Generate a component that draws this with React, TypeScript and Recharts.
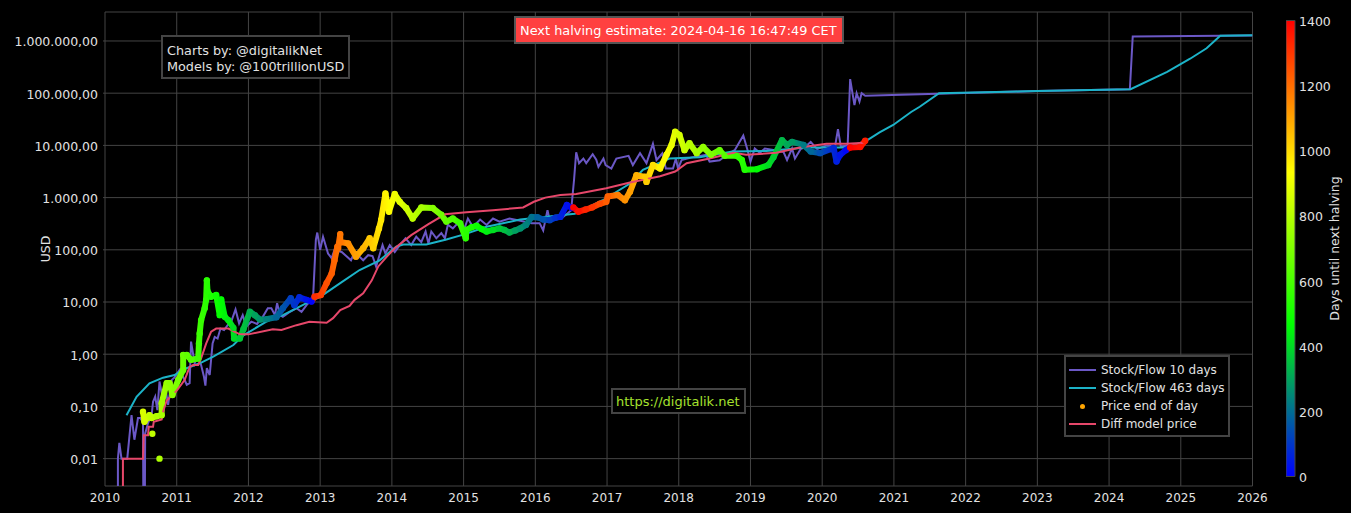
import { Bar, BarChart, CartesianGrid, Cell, ComposedChart, Line, Scatter, XAxis, YAxis } from 'recharts'

// ---------------------------------------------------------------------------
// Data (years as decimals, values in USD)
// ---------------------------------------------------------------------------

const yearTicks = [2010, 2011, 2012, 2013, 2014, 2015, 2016, 2017, 2018, 2019, 2020, 2021, 2022, 2023, 2024, 2025, 2026]
const usdTicks = [0.01, 0.1, 1, 10, 100, 1000, 10000, 100000, 1000000]
const colorbarTicks = [0, 200, 400, 600, 800, 1000, 1200, 1400]
const halvings = [2012.9, 2016.52, 2020.355, 2024.29]

const sf10Years = [
  2010.18, 2010.18, 2010.2, 2010.23, 2010.31, 2010.37, 2010.41, 2010.46, 2010.49, 2010.53, 2010.535, 2010.555, 2010.56, 2010.6, 2010.65, 2010.67, 2010.7, 2010.73, 2010.76, 2010.81, 2010.84, 2010.88, 2010.93, 2010.97,
  2011.04, 2011.11, 2011.14, 2011.18, 2011.2, 2011.25, 2011.29, 2011.34, 2011.38, 2011.4, 2011.42, 2011.46, 2011.5, 2011.53, 2011.57, 2011.61, 2011.66, 2011.71, 2011.76, 2011.82, 2011.87, 2011.92, 2011.97,
  2012.04, 2012.12, 2012.2, 2012.27, 2012.32, 2012.37, 2012.4, 2012.44, 2012.48, 2012.58, 2012.67, 2012.74, 2012.81, 2012.85, 2012.9, 2012.94, 2012.96,
  2013.0, 2013.04, 2013.11, 2013.16, 2013.2, 2013.3, 2013.43, 2013.48, 2013.6, 2013.67, 2013.73, 2013.78, 2013.87, 2013.91, 2013.97,
  2014.04, 2014.11, 2014.19, 2014.27, 2014.34, 2014.41, 2014.47, 2014.51, 2014.55, 2014.62, 2014.69, 2014.74, 2014.78, 2014.85, 2014.92, 2014.99,
  2015.06, 2015.13, 2015.23, 2015.32, 2015.41, 2015.5, 2015.64, 2015.79, 2015.95,
  2016.06, 2016.11, 2016.17, 2016.2, 2016.39, 2016.5, 2016.54, 2016.57, 2016.61, 2016.67, 2016.71, 2016.8, 2016.85, 2016.88, 2016.95, 2016.98,
  2017.06, 2017.13, 2017.3, 2017.36, 2017.46, 2017.55, 2017.64, 2017.69, 2017.77, 2017.82, 2017.92, 2017.96, 2017.99,
  2018.04, 2018.18, 2018.38, 2018.43, 2018.57, 2018.67, 2018.78, 2018.9, 2018.96, 2019.0, 2019.06, 2019.13, 2019.2, 2019.32, 2019.46, 2019.51, 2019.58, 2019.62, 2019.7, 2019.77, 2019.84, 2019.93,
  2020.06, 2020.18, 2020.22, 2020.26, 2020.355, 2020.39, 2020.45, 2020.48, 2020.52, 2020.55, 2020.6, 2021.36, 2023.0, 2024.29, 2024.33, 2025.55, 2026.0,
]
const sf10Values = [
  0.001, 0.01, 0.02, 0.01, 0.01, 0.068, 0.023, 0.06, 0.06, 0.05, 0.001, 0.001, 0.03, 0.048, 0.068, 0.123, 0.154, 0.085, 0.3, 0.13, 0.24, 0.107, 0.32, 0.36,
  0.5, 0.32, 0.26, 0.28, 1.74, 0.67, 0.95, 0.62, 0.37, 0.25, 0.54, 0.4, 1.6, 2.15, 2.0, 3.1, 2.9, 3.6, 4.2, 7.2, 3.9, 5.6, 3.4,
  4.2, 3.8, 5.2, 7.6, 7.6, 5.6, 9.5, 5.6, 5.2, 6.5, 7.6, 6.5, 8.7, 10, 11, 155, 214,
  100, 178, 85, 69, 100, 91, 63, 91, 63, 79, 76, 48, 123, 85, 123,
  91, 123, 166, 123, 178, 140, 224, 132, 224, 166, 209, 166, 302, 257, 324, 210,
  398, 275, 380, 300, 398, 347, 398, 360, 324,
  324, 234, 575, 372, 427, 575, 2190, 7400, 4570, 5600, 4570, 6760, 5300, 3900, 5600, 4200,
  3600, 5600, 6300, 4200, 7100, 4570, 10700, 5250, 7000, 3600, 3600, 5600, 3600,
  5250, 5900, 6600, 4900, 5200, 6600, 8100, 15500, 8100, 4900, 8700, 7200, 8700, 8200, 7500, 5250, 8700, 5600, 8500, 9500, 11700, 8500,
  10000, 9700, 20400, 9500, 10000, 186000, 59000, 100000, 69000, 100000, 89000, 95000, 110000, 119000, 1220000, 1260000, 1280000,
]

const sf463Years = [
  2010.3, 2010.44, 2010.62, 2010.81, 2010.97, 2011.09, 2011.32, 2011.51, 2011.79, 2011.93, 2012.25, 2012.48, 2012.81, 2013.0, 2013.28, 2013.55, 2013.83, 2014.06, 2014.16, 2014.48, 2014.76,
  2015.02, 2015.32, 2015.79, 2016.55, 2016.94, 2017.32, 2017.5, 2017.87, 2018.29, 2018.75, 2019.22, 2019.78, 2020.34, 2020.62, 2020.8, 2020.99, 2021.24, 2021.36, 2021.63, 2023.0, 2024.3, 2024.81, 2025.13, 2025.36, 2025.55, 2026.0,
]
const sf463Values = [
  0.068, 0.153, 0.277, 0.355, 0.4, 0.51, 0.67, 0.9, 1.5, 2.3, 4.2, 5.6, 9.5, 12.6, 23, 41, 63, 115, 126, 126, 158,
  200, 276, 380, 490, 890, 1860, 3400, 5600, 5900, 7600, 7800, 9100, 9100, 12300, 17800, 24600, 43600, 55000, 100000, 110000, 119000, 257000, 457000, 724000, 1260000, 1290000,
]

const diffYears = [
  2010.25, 2010.25, 2010.53, 2010.54, 2010.6, 2010.61, 2010.67, 2010.68, 2010.79, 2010.81, 2010.86, 2011.0, 2011.11, 2011.18, 2011.23, 2011.3, 2011.34, 2011.41, 2011.48, 2011.55, 2011.72, 2011.88,
  2012.0, 2012.34, 2012.46, 2012.67, 2012.85, 2013.09, 2013.18, 2013.28, 2013.41, 2013.48, 2013.6, 2013.72, 2013.81, 2013.93,
  2014.04, 2014.27, 2014.51, 2014.74, 2015.04, 2015.41, 2015.83, 2015.98, 2016.14, 2016.35, 2016.57, 2016.99, 2017.32, 2017.74, 2017.95, 2018.11, 2018.43, 2018.76, 2018.94, 2019.36, 2019.69, 2020.06, 2020.34, 2020.6,
]
const diffValues = [
  0.001, 0.01, 0.01, 0.028, 0.028, 0.041, 0.041, 0.051, 0.056, 0.079, 0.13, 0.2, 0.32, 0.57, 0.62, 0.62, 0.83, 1.6, 2.7, 3.1, 3.1, 2.4,
  2.4, 3.0, 2.9, 3.6, 4.2, 4.0, 4.9, 7, 8.4, 11, 14.7, 26, 48, 74,
  107, 191, 309, 479, 525, 575, 646, 832, 1000, 1120, 1170, 1510, 1950, 2570, 3160, 4570, 5600, 7200, 6600, 7200, 9100, 10700, 10700, 11200,
]

const priceYears = [
  2010.53, 2010.55, 2010.62, 2010.65, 2010.72, 2010.79, 2010.79, 2010.86, 2010.9, 2010.94, 2011.02, 2011.09, 2011.09, 2011.14, 2011.2, 2011.3, 2011.31, 2011.32, 2011.34, 2011.39, 2011.41, 2011.42, 2011.43, 2011.48, 2011.55, 2011.6, 2011.62, 2011.67, 2011.72, 2011.79, 2011.8, 2011.88, 2011.93,
  2012.02, 2012.09, 2012.16, 2012.25, 2012.39, 2012.48, 2012.59, 2012.64, 2012.71, 2012.81, 2012.88, 2012.92,
  2013.01, 2013.09, 2013.16, 2013.2, 2013.24, 2013.25, 2013.28, 2013.28, 2013.39, 2013.5, 2013.6, 2013.69, 2013.74, 2013.82, 2013.85, 2013.91, 2013.96,
  2014.04, 2014.11, 2014.2, 2014.29, 2014.41, 2014.57, 2014.69, 2014.76, 2014.85, 2014.95,
  2015.03, 2015.04, 2015.11, 2015.18, 2015.25, 2015.32, 2015.41, 2015.5, 2015.57, 2015.64, 2015.72, 2015.79, 2015.87, 2015.95,
  2016.03, 2016.11, 2016.2, 2016.28, 2016.35, 2016.44, 2016.51, 2016.53, 2016.6, 2016.7, 2016.79, 2016.9, 2016.99,
  2017.01, 2017.15, 2017.25, 2017.32, 2017.41, 2017.53, 2017.55, 2017.64, 2017.74, 2017.83, 2017.9, 2017.95,
  2018.01, 2018.08, 2018.15, 2018.25, 2018.34, 2018.45, 2018.57, 2018.64, 2018.81, 2018.88, 2018.92,
  2019.09, 2019.25, 2019.32, 2019.44, 2019.51, 2019.58, 2019.74, 2019.84, 2019.97,
  2020.16, 2020.2, 2020.25, 2020.33, 2020.39, 2020.53, 2020.6,
]
const priceValues = [
  0.079, 0.051, 0.068, 0.06, 0.065, 0.068, 0.115, 0.28, 0.28, 0.166, 0.32, 0.5, 0.97, 0.97, 0.78, 0.83, 1.6, 2.5, 4.5, 7.6, 11, 26, 16, 12.6, 13.6, 5.6, 11.2, 5.2, 4.5, 3.2, 2, 2, 3,
  6.5, 5.6, 4.6, 4.7, 5.1, 7.6, 11.8, 8.7, 12.3, 11, 10.2, 12.6,
  13.6, 23, 35, 63, 115, 107, 200, 142, 132, 74, 107, 166, 107, 257, 372, 1200, 537,
  1170, 830, 630, 398, 646, 630, 468, 347, 398, 324,
  166, 240, 270, 288, 250, 224, 240, 257, 240, 214, 235, 257, 300, 427,
  420, 380, 370, 410, 427, 724, 630, 646, 537, 590, 646, 760, 830,
  1050, 1120, 890, 1290, 2690, 2500, 2000, 4200, 3600, 6600, 10200, 18200,
  15800, 8100, 11000, 7100, 9300, 6600, 8100, 6300, 6300, 5250, 3400,
  3500, 4200, 5900, 12600, 10200, 11700, 10200, 7600, 7100,
  8900, 4900, 6600, 8100, 9100, 9300, 12300,
]
// days with no neighbour in the thick band
const priceOutlierYears = [2010.66, 2010.76]
const priceOutlierValues = [0.03, 0.01]

const legendItems = [
  { label: 'Stock/Flow 10 days', color: '#6b58c6', kind: 'line' },
  { label: 'Stock/Flow 463 days', color: '#1cb3c8', kind: 'line' },
  { label: 'Price end of day', color: '#ffa500', kind: 'dot' },
  { label: 'Diff model price', color: '#e6476a', kind: 'line' },
]

// ---------------------------------------------------------------------------
// Helpers
// ---------------------------------------------------------------------------

const FONT = '"DejaVu Sans", sans-serif'
const TEXT = '#e2e2e2'
const GRID = '#444'

const toRows = (years: number[], values: number[]) => years.map((t, i) => ({ t, v: values[i] }))

const sf10Rows = toRows(sf10Years, sf10Values)
const sf463Rows = toRows(sf463Years, sf463Values)
const diffRows = toRows(diffYears, diffValues)
const priceRows = toRows(priceYears, priceValues)

// blue -> green -> yellow -> red over the 0..1400 day range
function daysColor(days: number) {
  const f = Math.min(Math.max(days / 1400, 0), 1) * 3
  let r = 0
  let g = 0
  let b = 0
  if (f < 1) {
    g = f
    b = 1 - f
  } else if (f < 2) {
    r = f - 1
    g = 1
  } else {
    r = 1
    g = 3 - f
  }
  return `rgb(${Math.round(r * 255)},${Math.round(g * 255)},${Math.round(b * 255)})`
}

function daysUntilHalving(t: number) {
  const next = halvings.find((h) => h > t) ?? halvings[halvings.length - 1]
  return (next - t) * 365.25
}

const priceDots = [...priceRows, ...toRows(priceOutlierYears, priceOutlierValues)].map((d) => ({
  ...d,
  color: daysColor(daysUntilHalving(d.t)),
}))

const firstYear = priceYears[0]
const lastYear = priceYears[priceYears.length - 1]
const stopYears = [
  ...priceYears,
  ...halvings.filter((h) => h > firstYear && h < lastYear).flatMap((h) => [h - 0.001, h + 0.001]),
].sort((a, b) => a - b)

const formatUsd = (v: number) =>
  v.toLocaleString('de-DE', { minimumFractionDigits: 2, maximumFractionDigits: 2 })

const noteBox = {
  position: 'absolute' as const,
  boxSizing: 'border-box' as const,
  background: '#000',
  border: `2px solid ${GRID}`,
  fontSize: 12.8,
  whiteSpace: 'pre' as const,
}

// ---------------------------------------------------------------------------
// Component
// ---------------------------------------------------------------------------

export default function App() {
  return (
    <div style={{ position: 'absolute', left: 0, top: 0, width: 1351, height: 513, background: '#000', overflow: 'hidden', fontFamily: FONT, color: TEXT }}>
      <div style={{ position: 'absolute', left: 0, top: 0 }}>
        <ComposedChart width={1351} height={513} margin={{ top: 12, right: 98.5, bottom: 0, left: 0 }}>
          <defs>
            <linearGradient id="priceGradient" x1="0" y1="0" x2="1" y2="0">
              {stopYears.map((t, i) => (
                <stop key={i} offset={(t - firstYear) / (lastYear - firstYear)} stopColor={daysColor(daysUntilHalving(t))} />
              ))}
            </linearGradient>
          </defs>
          <CartesianGrid stroke={GRID} strokeWidth={1} />
          <XAxis
            type="number"
            dataKey="t"
            domain={[2010, 2026]}
            ticks={yearTicks}
            interval={0}
            allowDataOverflow
            height={27}
            tickSize={0}
            tickMargin={7}
            axisLine={false}
            tick={{ fontSize: 12, fill: TEXT, fontFamily: FONT }}
          />
          <YAxis
            type="number"
            dataKey="v"
            scale="log"
            domain={[0.00299, 3590000]}
            ticks={usdTicks}
            interval={0}
            allowDataOverflow
            width={105}
            tickSize={2}
            tickMargin={5}
            axisLine={false}
            tickLine={{ stroke: GRID }}
            tickFormatter={formatUsd}
            tick={{ fontSize: 12.5, fill: TEXT, fontFamily: FONT, dy: 1 }}
            label={{ value: 'USD', angle: -90, position: 'center', dx: -7, style: { fontSize: 12.5, fill: TEXT, fontFamily: FONT } }}
          />
          <Line data={sf10Rows} dataKey="v" stroke="#6b58c6" strokeWidth={2} dot={false} isAnimationActive={false} />
          <Line data={sf463Rows} dataKey="v" stroke="#1cb3c8" strokeWidth={2} dot={false} isAnimationActive={false} />
          <Line data={priceRows} dataKey="v" stroke="url(#priceGradient)" strokeWidth={6} strokeLinejoin="round" dot={false} isAnimationActive={false} />
          <Scatter data={priceDots} dataKey="v" shape={(p: any) => <circle cx={p.cx} cy={p.cy} r={3.2} fill={p.color} />} isAnimationActive={false}>
            {priceDots.map((d, i) => (
              <Cell key={i} fill={d.color} />
            ))}
          </Scatter>
          <Line data={diffRows} dataKey="v" stroke="#e6476a" strokeWidth={2} dot={false} isAnimationActive={false} />
        </ComposedChart>
      </div>

      <div style={{ position: 'absolute', left: 1286, top: 0 }}>
        <BarChart width={65} height={513} data={[{ name: 'days', max: 1400 }]} barCategoryGap={0} margin={{ top: 20.5, right: 0, bottom: 36.5, left: 0 }}>
          <defs>
            <linearGradient id="colorbarGradient" x1="0" y1="1" x2="0" y2="0">
              <stop offset="0" stopColor={daysColor(0)} />
              <stop offset="0.3333" stopColor={daysColor(466.67)} />
              <stop offset="0.6667" stopColor={daysColor(933.33)} />
              <stop offset="1" stopColor={daysColor(1400)} />
            </linearGradient>
          </defs>
          <XAxis dataKey="name" hide />
          <YAxis
            orientation="right"
            type="number"
            domain={[0, 1400]}
            ticks={colorbarTicks}
            interval={0}
            width={56}
            tickSize={0}
            tickMargin={4}
            axisLine={false}
            tick={{ fontSize: 12.5, fill: TEXT, fontFamily: FONT, dy: 1 }}
            label={{ value: 'Days until next halving', angle: -90, position: 'center', dx: 12, style: { fontSize: 12.5, fill: TEXT, fontFamily: FONT } }}
          />
          <Bar dataKey="max" fill="url(#colorbarGradient)" stroke={GRID} strokeWidth={1} isAnimationActive={false} />
        </BarChart>
      </div>

      <div style={{ ...noteBox, left: 161, top: 35, width: 189, height: 44, padding: '6px 0 0 4px', lineHeight: '16px', color: TEXT }}>
        {'Charts by: @digitalikNet\nModels by: @100trillionUSD'}
      </div>
      <div style={{ ...noteBox, left: 514, top: 16, width: 330, height: 28, padding: '0 0 0 4px', lineHeight: '25px', fontSize: 12.9, background: '#ff4040', borderColor: '#555', color: '#fff' }}>
        Next halving estimate: 2024-04-16 16:47:49 CET
      </div>
      <div style={{ ...noteBox, left: 611, top: 388, width: 135, height: 26, padding: '0 0 0 3px', lineHeight: '24px', fontSize: 13, color: '#a6e22e' }}>
        https://digitalik.net
      </div>

      <div style={{ ...noteBox, left: 1064, top: 355, width: 166, height: 82, fontSize: 12, padding: '4px 0 0 3px' }}>
        {legendItems.map((item) => (
          <div key={item.label} style={{ display: 'flex', alignItems: 'center', height: 18 }}>
            <span style={{ width: 27, display: 'flex', justifyContent: 'center', marginRight: 5 }}>
              {item.kind === 'line' ? (
                <span style={{ width: 27, height: 2, background: item.color }} />
              ) : (
                <span style={{ width: 5, height: 5, borderRadius: 3, background: item.color }} />
              )}
            </span>
            {item.label}
          </div>
        ))}
      </div>
    </div>
  )
}
